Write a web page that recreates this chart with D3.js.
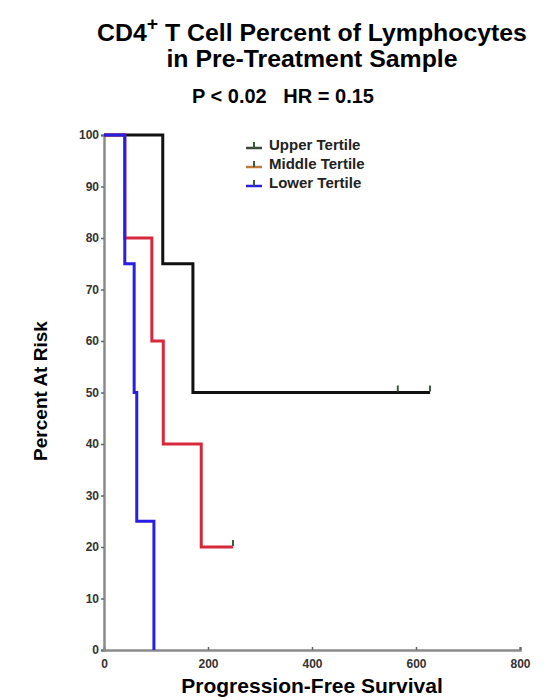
<!DOCTYPE html>
<html><head><meta charset="utf-8">
<script src="https://cdn.jsdelivr.net/npm/d3@7"></script>
<style>
body{margin:0;background:#fff;}
text{font-family:"Liberation Sans",Arial,sans-serif;font-weight:bold;}
</style></head>
<body><svg id="c" width="560" height="700"></svg>
<script>
const seriesNames = ["Upper Tertile","Middle Tertile","Lower Tertile"];
const upperTimes = [0,113,171];
const upperPct = [100,75,50];
const upperEnd = 627;
const upperCensored = [565,627];
const middleTimes = [0,40,92,114,187];
const middlePct = [100,80,60,40,20];
const middleEnd = 248;
const middleCensored = [248];
const lowerTimes = [0,40,58,63,96];
const lowerPct = [100,75,50,25,0];
const lowerEnd = 96;
const lowerCensored = [];
const xTicks = [0,200,400,600,800];
const yTicks = [0,10,20,30,40,50,60,70,80,90,100];

const colors = ["#111111","#d8283c","#2a1ee0"];
const legendColors = ["#3b4a3b","#c07a3a","#2a1ee0"];
const censorColor = "#3d5a3d";

const svg = d3.select("#c");
const x = d3.scaleLinear().domain([0,800]).range([104,520]);
const y = d3.scaleLinear().domain([0,100]).range([650,135]);

// title
const tg = svg.append("g").attr("transform","translate(312,0) scale(1.08,1)");
tg.append("text").attr("x",0).attr("y",41).attr("text-anchor","middle").attr("font-size",23)
  .html('CD4<tspan dy="-11" font-size="18">+</tspan><tspan dy="11"> T Cell Percent of Lymphocytes</tspan>');
tg.append("text").attr("x",0).attr("y",67).attr("text-anchor","middle").attr("font-size",23)
  .text("in Pre-Treatment Sample");
svg.append("text").attr("x",283).attr("y",103).attr("text-anchor","middle").attr("font-size",20)
  .attr("xml:space","preserve").text("P < 0.02   HR = 0.15");

// axes
const yAxis = svg.append("g").attr("transform","translate(104,0)")
  .call(d3.axisLeft(y).tickValues(yTicks).tickSize(3).tickPadding(2));
const xAxis = svg.append("g").attr("transform","translate(0,650)")
  .call(d3.axisBottom(x).tickValues(xTicks).tickSize(-3).tickPadding(9));
[yAxis,xAxis].forEach(g=>{
  g.select(".domain").attr("stroke","#8a8a8a").attr("stroke-width",2.5);
  g.selectAll(".tick line").attr("stroke","#666").attr("stroke-width",1.5);
  g.selectAll(".tick text").attr("fill","#333").attr("font-size",12).attr("font-family","Liberation Sans, Arial").attr("font-weight","bold");
});
xAxis.selectAll(".tick line").filter(d=>d===0).remove();

svg.append("text").attr("x",312).attr("y",693).attr("text-anchor","middle").attr("font-size",21)
  .text("Progression-Free Survival");
svg.append("text").attr("transform","translate(47,391) rotate(-90)").attr("text-anchor","middle").attr("font-size",19)
  .text("Percent At Risk");

// curves
const series = [
  {times:upperTimes,pct:upperPct,end:upperEnd,cens:upperCensored},
  {times:middleTimes,pct:middlePct,end:middleEnd,cens:middleCensored},
  {times:lowerTimes,pct:lowerPct,end:lowerEnd,cens:lowerCensored}
];
const line = d3.line().x(d=>x(d[0])).y(d=>y(d[1])).curve(d3.curveStepAfter);
series.forEach((s,i)=>{
  const pts = s.times.map((t,j)=>[t,s.pct[j]]);
  pts.push([s.end,s.pct[s.pct.length-1]]);
  svg.append("path").attr("d",line(pts)).attr("fill","none").attr("stroke",colors[i])
    .attr("stroke-width",3).attr("stroke-linejoin","miter");
  const last = s.pct[s.pct.length-1];
  s.cens.forEach(t=>{
    svg.append("line").attr("x1",x(t)).attr("x2",x(t)).attr("y1",y(last)-1).attr("y2",y(last)-7)
      .attr("stroke",censorColor).attr("stroke-width",2);
  });
});

// legend
const lg = svg.append("g");
seriesNames.forEach((n,i)=>{
  const yy = 148 + i*19;
  lg.append("line").attr("x1",246).attr("x2",262).attr("y1",yy).attr("y2",yy)
    .attr("stroke",legendColors[i]).attr("stroke-width",2.5);
  lg.append("line").attr("x1",254).attr("x2",254).attr("y1",yy).attr("y2",yy-6)
    .attr("stroke",censorColor).attr("stroke-width",2);
  lg.append("text").attr("x",269).attr("y",yy+2).attr("font-size",15).attr("fill","#222").text(n);
});
</script></body></html>
